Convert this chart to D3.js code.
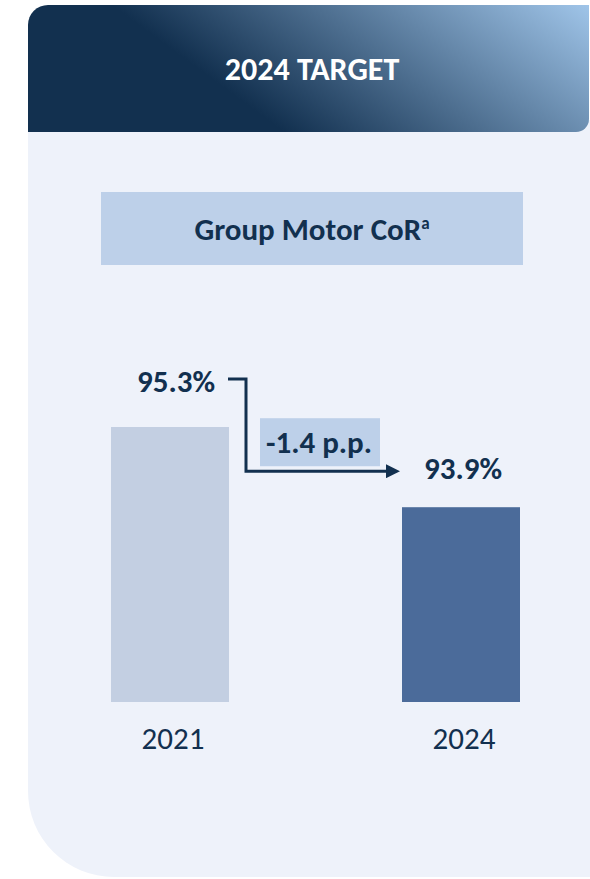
<!DOCTYPE html>
<html>
<head>
<meta charset="utf-8">
<script src="https://cdn.jsdelivr.net/npm/d3@7"></script>
<style>
  html, body { margin: 0; padding: 0; background: #ffffff; }
  svg { display: block; font-family: Carlito, Lato, "Open Sans", sans-serif; }
</style>
</head>
<body>
<div id="chart"></div>
<script>
const SVG_WIDTH = 590;
const SVG_HEIGHT = 879;

// data
const years = ["2021", "2024"];
const corValues = [95.3, 93.9];
const valueLabels = ["95.3%", "93.9%"];
const deltaLabel = "-1.4 p.p.";
const headerTitle = "2024 TARGET";
const chartTitle = "Group Motor CoR";
const chartTitleSup = "a";

const NAVY = "#12304f";
const BAR_COLORS = ["#c3cfe2", "#4b6b9a"];
const BOX_COLOR = "#bdd0e9";
const PANEL_COLOR = "#eef2fa";

var svg = d3.select("#chart")
    .append("svg")
    .attr("width", SVG_WIDTH)
    .attr("height", SVG_HEIGHT);

// path for a rect with its own radius on each corner [tl, tr, br, bl]
function roundedRect(x, y, w, h, r) {
    var p = d3.path();
    p.moveTo(x + r[0], y);
    p.lineTo(x + w - r[1], y);
    if (r[1]) p.arcTo(x + w, y, x + w, y + r[1], r[1]);
    p.lineTo(x + w, y + h - r[2]);
    if (r[2]) p.arcTo(x + w, y + h, x + w - r[2], y + h, r[2]);
    p.lineTo(x + r[3], y + h);
    if (r[3]) p.arcTo(x, y + h, x, y + h - r[3], r[3]);
    p.lineTo(x, y + r[0]);
    if (r[0]) p.arcTo(x, y, x + r[0], y, r[0]);
    p.closePath();
    return p.toString();
}

////////// panel + header //////////

var defs = svg.append("defs");
var grad = defs.append("linearGradient")
    .attr("id", "headerGrad")
    .attr("gradientUnits", "userSpaceOnUse")
    .attr("x1", 200).attr("y1", 70)
    .attr("x2", 367).attr("y2", -157);
grad.append("stop").attr("offset", 0).attr("stop-color", NAVY);
grad.append("stop").attr("offset", 1).attr("stop-color", "#9fc4e8");

svg.append("path")
    .attr("d", roundedRect(28, 120, 562, 757, [0, 0, 0, 86]))
    .attr("fill", PANEL_COLOR);

svg.append("path")
    .attr("d", roundedRect(28, 5, 561, 127, [20, 0, 13, 0]))
    .attr("fill", "url(#headerGrad)");

svg.append("text")
    .attr("x", 312)
    .attr("y", 80)
    .attr("text-anchor", "middle")
    .attr("fill", "#ffffff")
    .attr("font-weight", 700)
    .attr("font-size", 32)
    .text(headerTitle);

// title box
svg.append("rect")
    .attr("x", 101).attr("y", 192)
    .attr("width", 422).attr("height", 73)
    .attr("fill", BOX_COLOR);

var title = svg.append("text")
    .attr("x", 312)
    .attr("y", 240)
    .attr("text-anchor", "middle")
    .attr("fill", NAVY)
    .attr("font-weight", 700)
    .attr("font-size", 31);
title.append("tspan").text(chartTitle);
title.append("tspan")
    .attr("font-size", 17)
    .attr("dy", -11)
    .text(chartTitleSup);

////////// bars //////////

var x = d3.scaleBand()
    .domain(years)
    .range([111, 520])
    .paddingInner(0.5945)
    .paddingOuter(0);

var y = d3.scaleLinear()
    .domain([90.5, 95.3])
    .range([702, 427]);

var data = years.map(function(d, i) {
    return { year: d, value: corValues[i], label: valueLabels[i], color: BAR_COLORS[i] };
});

svg.selectAll(".bar")
    .data(data)
    .enter()
    .append("rect")
    .attr("class", "bar")
    .attr("x", function(d) { return x(d.year); })
    .attr("y", function(d) { return y(d.value); })
    .attr("width", x.bandwidth())
    .attr("height", function(d) { return y.range()[0] - y(d.value); })
    .attr("fill", function(d) { return d.color; });

// year labels under the bars
svg.selectAll(".year")
    .data(data)
    .enter()
    .append("text")
    .attr("class", "year")
    .attr("x", function(d) { return x(d.year) + x.bandwidth() / 2 + 3; })
    .attr("y", 749)
    .attr("text-anchor", "middle")
    .attr("fill", NAVY)
    .attr("font-size", 31)
    .text(function(d) { return d.year; });

// value labels above the bars
var labelOffset = [35, 28]; // distance from bar top to label baseline
var labelShift = [6, 2];
svg.selectAll(".value")
    .data(data)
    .enter()
    .append("text")
    .attr("class", "value")
    .attr("x", function(d, i) { return x(d.year) + x.bandwidth() / 2 + labelShift[i]; })
    .attr("y", function(d, i) { return y(d.value) - labelOffset[i]; })
    .attr("text-anchor", "middle")
    .attr("fill", NAVY)
    .attr("font-weight", 700)
    .attr("font-size", 31)
    .text(function(d) { return d.label; });

////////// change arrow //////////

defs.append("marker")
    .attr("id", "arrowHead")
    .attr("viewBox", "0 0 10 10")
    .attr("refX", 0).attr("refY", 5)
    .attr("markerUnits", "userSpaceOnUse")
    .attr("markerWidth", 16).attr("markerHeight", 14)
    .attr("orient", "auto")
    .append("path")
    .attr("d", "M0,0L10,5L0,10Z")
    .attr("fill", NAVY);

var startY = y(corValues[0]) - 48;   // mid height of the first label
var endY = y(corValues[1]) - 36;     // mid height of the second label
var startX = x(years[0]) + x.bandwidth() - 1;
var elbowX = startX + 18;
var endX = x(years[1]) - 16;

// delta box
var boxX = elbowX + 14, boxW = 120;
svg.append("rect")
    .attr("x", boxX)
    .attr("y", endY - 53)
    .attr("width", boxW)
    .attr("height", 48)
    .attr("fill", BOX_COLOR);

svg.append("text")
    .attr("x", boxX + boxW / 2 - 1)
    .attr("y", endY - 18)
    .attr("text-anchor", "middle")
    .attr("fill", NAVY)
    .attr("font-weight", 700)
    .attr("font-size", 31)
    .text(deltaLabel);

svg.append("path")
    .attr("d", d3.line()([[startX, startY], [elbowX, startY], [elbowX, endY], [endX, endY]]))
    .attr("fill", "none")
    .attr("stroke", NAVY)
    .attr("stroke-width", 3)
    .attr("marker-end", "url(#arrowHead)");
</script>
</body>
</html>
